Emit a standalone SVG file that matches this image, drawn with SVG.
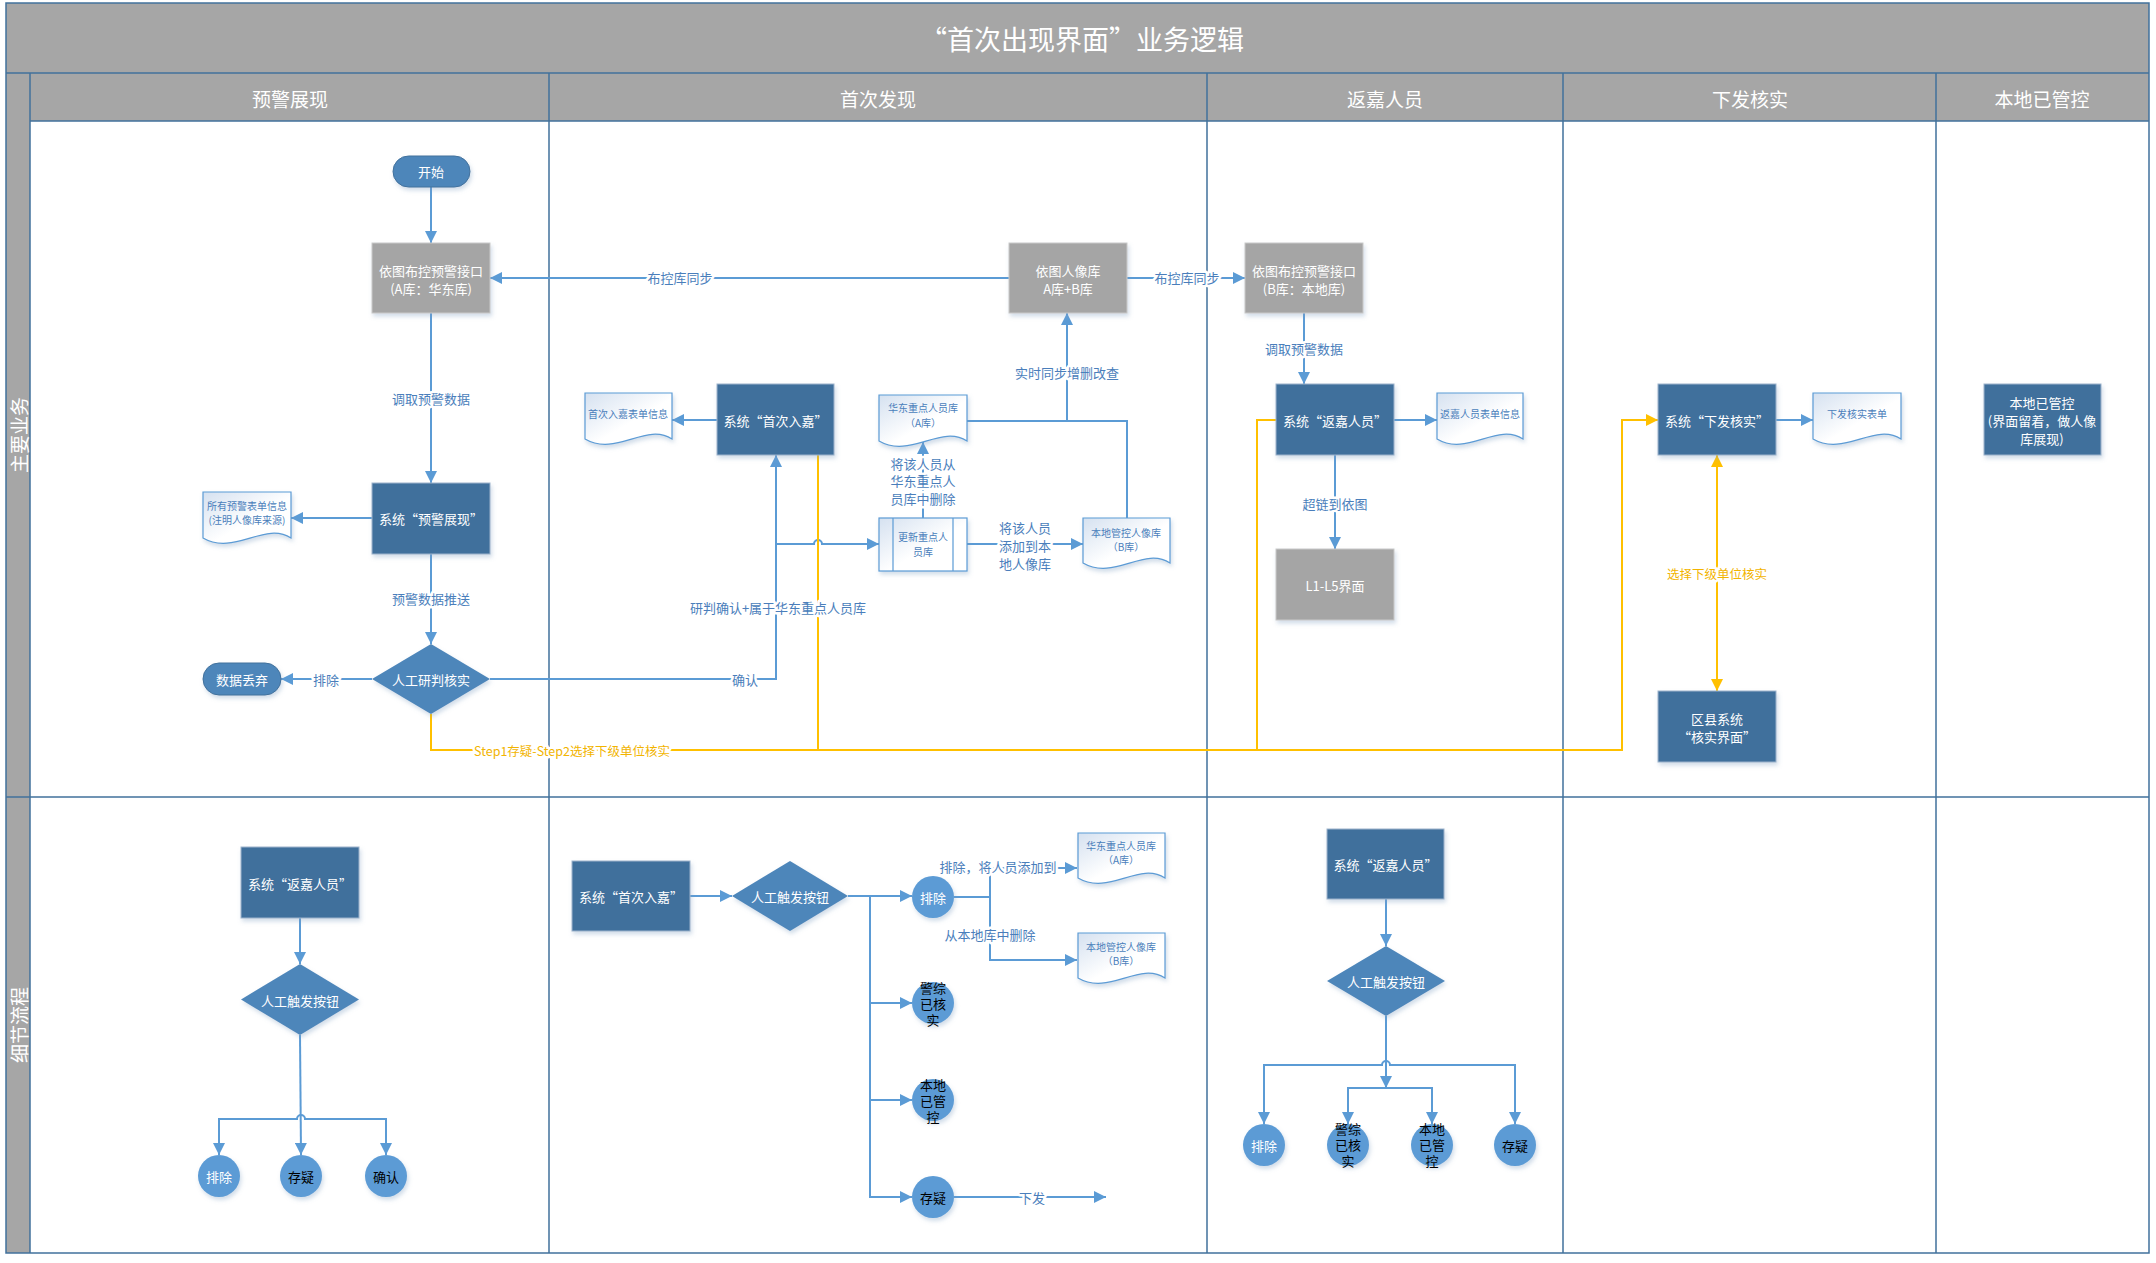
<svg xmlns="http://www.w3.org/2000/svg" width="2156" height="1263" viewBox="0 0 2156 1263">
<style>
text{font-family:"Noto Sans CJK SC","Liberation Sans",sans-serif;}
.hdr{fill:#A6A6A6;}
.lane{fill:none;stroke:#41719C;stroke-width:1.5;}
.ttl{fill:#fff;font-size:27px;text-anchor:middle;dominant-baseline:central;}
.lh{fill:#fff;font-size:19px;text-anchor:middle;dominant-baseline:central;}
.proc{fill:#41709C;stroke:#9DB3CC;stroke-width:1;}
.gray{fill:#A5A5A5;stroke:#C9C9C9;stroke-width:1;}
.dia{fill:#4E86BA;}
.pill{fill:#4E86BA;stroke:#41719C;stroke-width:1;}
.circ{fill:#5B9BD5;}
.doc{fill:url(#dg);stroke:#5B9BD5;stroke-width:1.2;}
.wt{fill:#fff;font-size:13px;text-anchor:middle;dominant-baseline:central;}
.bk{fill:#000;font-size:13px;text-anchor:middle;dominant-baseline:central;}
.dt{fill:#4A7EBB;font-size:10px;text-anchor:middle;dominant-baseline:central;}
.c{fill:none;stroke:#5B9BD5;stroke-width:2;}
.o{fill:none;stroke:#FFC000;stroke-width:2;}
.lbl{fill:#4A7EBB;font-size:13px;text-anchor:middle;dominant-baseline:central;stroke:#fff;stroke-width:5px;stroke-linejoin:round;paint-order:stroke;}
.olbl{fill:#F2B400;font-size:12.5px;text-anchor:middle;dominant-baseline:central;stroke:#fff;stroke-width:5px;stroke-linejoin:round;paint-order:stroke;}
</style>
<defs>
<marker id="ab" markerUnits="userSpaceOnUse" markerWidth="12" markerHeight="12" refX="12" refY="6" orient="auto-start-reverse"><path d="M0,0 L12,6 L0,12 Z" fill="#5B9BD5"/></marker>
<marker id="ao" markerUnits="userSpaceOnUse" markerWidth="12" markerHeight="12" refX="12" refY="6" orient="auto-start-reverse"><path d="M0,0 L12,6 L0,12 Z" fill="#FFC000"/></marker>
<linearGradient id="dg" x1="0" y1="0" x2="1" y2="1"><stop offset="0" stop-color="#D5E1F0"/><stop offset="0.55" stop-color="#FFFFFF"/></linearGradient>
<filter id="sh" x="-15%" y="-15%" width="140%" height="150%"><feDropShadow dx="1.5" dy="3" stdDeviation="2" flood-color="#7E9CC0" flood-opacity="0.35"/></filter>
</defs>

<g id="pool">
<rect x="0" y="0" width="2156" height="1263" fill="#fff"/>
<rect class="hdr" x="6" y="3" width="2143" height="70"/>
<rect class="hdr" x="30" y="73" width="2119" height="48"/>
<rect class="hdr" x="6" y="73" width="24" height="1180"/>
<rect class="lane" x="6" y="3" width="2143" height="1250"/>
<path class="lane" d="M6 73 H2149 M30 121 H2149 M6 797 H2149 M30 73 V1253 M549 73 V1253 M1207 73 V1253 M1563 73 V1253 M1936 73 V1253"/>
<text class="ttl" x="1082" y="38">“首次出现界面”业务逻辑</text>
<text class="lh" x="290" y="98">预警展现</text>
<text class="lh" x="878" y="98">首次发现</text>
<text class="lh" x="1385" y="98">返嘉人员</text>
<text class="lh" x="1750" y="98">下发核实</text>
<text class="lh" x="2042" y="98">本地已管控</text>
<text class="lh" transform="translate(18,435) rotate(-90)" x="0" y="0">主要业务</text>
<text class="lh" transform="translate(18,1025) rotate(-90)" x="0" y="0">细节流程</text>
</g>

<g id="connectors">
<path class="c" d="M431 187 V243" marker-end="url(#ab)"/>
<path class="c" d="M431 313 V483" marker-end="url(#ab)"/>
<path class="c" d="M372 518 H291" marker-end="url(#ab)"/>
<path class="c" d="M431 554 V644" marker-end="url(#ab)"/>
<path class="c" d="M372 679 H281" marker-end="url(#ab)"/>
<path class="c" d="M490 679 H776 V455" marker-end="url(#ab)"/>
<path class="c" d="M776 544 H814 A4 4 0 0 1 822 544 H879" marker-end="url(#ab)"/>
<path class="c" d="M717 420 H672" marker-end="url(#ab)"/>
<path class="c" d="M923 518 V442" marker-end="url(#ab)"/>
<path class="c" d="M967 544 H1083" marker-end="url(#ab)"/>
<path class="c" d="M967 421 H1127 V518"/>
<path class="c" d="M1067 421 V313" marker-end="url(#ab)"/>
<path class="c" d="M1009 278 H490" marker-end="url(#ab)"/>
<path class="c" d="M1127 278 H1245" marker-end="url(#ab)"/>
<path class="c" d="M1304 313 V384" marker-end="url(#ab)"/>
<path class="c" d="M1394 420 H1437" marker-end="url(#ab)"/>
<path class="c" d="M1335 455 V549" marker-end="url(#ab)"/>
<path class="c" d="M1776 420 H1813" marker-end="url(#ab)"/>

<path class="o" d="M818 455 V750"/>
<path class="o" d="M1276 420 H1257 V750"/>
<path class="o" d="M431 714 V750 H1622 V420 H1658" marker-end="url(#ao)"/>
<path class="o" d="M1717 455 V691" marker-start="url(#ao)" marker-end="url(#ao)"/>

<path class="c" d="M300 918 V964" marker-end="url(#ab)"/>
<path class="c" d="M300 1035 L301 1155" marker-end="url(#ab)"/>
<path class="c" d="M219 1155 V1119 H297 A4 4 0 0 1 305 1119 H386 V1155" marker-start="url(#ab)" marker-end="url(#ab)"/>

<path class="c" d="M690 896 H732" marker-end="url(#ab)"/>
<path class="c" d="M848 896 H912" marker-end="url(#ab)"/>
<path class="c" d="M870 896 V1197 H912" marker-end="url(#ab)"/>
<path class="c" d="M870 1003 H912" marker-end="url(#ab)"/>
<path class="c" d="M870 1100 H912" marker-end="url(#ab)"/>
<path class="c" d="M954 897 H990"/>
<path class="c" d="M990 897 V868 H1077" marker-end="url(#ab)"/>
<path class="c" d="M990 897 V960 H1077" marker-end="url(#ab)"/>
<path class="c" d="M954 1197 H1106" marker-end="url(#ab)"/>

<path class="c" d="M1386 899 V946" marker-end="url(#ab)"/>
<path class="c" d="M1386 1016 V1088" marker-end="url(#ab)"/>
<path class="c" d="M1264 1124 V1065 H1382 A4 4 0 0 1 1390 1065 H1515 V1124" marker-start="url(#ab)" marker-end="url(#ab)"/>
<path class="c" d="M1348 1124 V1088 H1432 V1124" marker-start="url(#ab)" marker-end="url(#ab)"/>

<text class="lbl" x="431" y="398">调取预警数据</text>
<text class="lbl" x="431" y="598">预警数据推送</text>
<text class="lbl" x="326" y="679">排除</text>
<text class="lbl" x="745" y="679">确认</text>
<text class="lbl" x="778" y="607">研判确认+属于华东重点人员库</text>
<text class="lbl" x="923" y="463">将该人员从</text>
<text class="lbl" x="923" y="480">华东重点人</text>
<text class="lbl" x="923" y="498">员库中删除</text>
<text class="lbl" x="1025" y="527">将该人员</text>
<text class="lbl" x="1025" y="545">添加到本</text>
<text class="lbl" x="1025" y="563">地人像库</text>
<text class="lbl" x="1067" y="372">实时同步增删改查</text>
<text class="lbl" x="680" y="277">布控库同步</text>
<text class="lbl" x="1187" y="277">布控库同步</text>
<text class="lbl" x="1304" y="348">调取预警数据</text>
<text class="lbl" x="1335" y="503">超链到依图</text>
<text class="olbl" x="572" y="750">Step1存疑-Step2选择下级单位核实</text>
<text class="olbl" x="1717" y="573">选择下级单位核实</text>
<text class="lbl" x="998" y="866">排除，将人员添加到</text>
<text class="lbl" x="990" y="934">从本地库中删除</text>
<text class="lbl" x="1032" y="1197">下发</text>
</g>

<g id="n_start"><rect class="pill" x="393" y="156" width="77" height="31" rx="15.5" filter="url(#sh)"/><text class="wt" x="431" y="171">开始</text></g>
<g id="n_ytA"><rect class="gray" x="372" y="243" width="118" height="70" filter="url(#sh)"/><text class="wt" x="431" y="270">依图布控预警接口</text><text class="wt" x="431" y="288">(A库：华东库)</text></g>
<g id="n_yjzx"><rect class="proc" x="372" y="483" width="118" height="71" filter="url(#sh)"/><text class="wt" x="431" y="518">系统“预警展现”</text></g>
<g id="n_doc_all"><path class="doc" d="M203 492 H291 V538 C265 521 234 556 203 538 Z" filter="url(#sh)"/><text class="dt" x="247" y="505">所有预警表单信息</text><text class="dt" x="247" y="519">(注明人像库来源)</text></g>
<g id="n_rgyp"><path class="dia" d="M431 644 L490 679 L431 714 L372 679 Z" filter="url(#sh)"/><text class="wt" x="431" y="679">人工研判核实</text></g>
<g id="n_discard"><rect class="pill" x="203" y="663" width="78" height="32" rx="16" filter="url(#sh)"/><text class="wt" x="242" y="679">数据丢弃</text></g>

<g id="n_scrj"><rect class="proc" x="717" y="384" width="117" height="71" filter="url(#sh)"/><text class="wt" x="775.5" y="420">系统“首次入嘉”</text></g>
<g id="n_doc_scrj"><path class="doc" d="M585 393 H672 V439 C646 422 616 457 585 439 Z" filter="url(#sh)"/><text class="dt" x="628" y="413">首次入嘉表单信息</text></g>
<g id="n_docA"><path class="doc" d="M879 395 H967 V441 C941 424 910 459 879 441 Z" filter="url(#sh)"/><text class="dt" x="923" y="407">华东重点人员库</text><text class="dt" x="923" y="422">（A库）</text></g>
<g id="n_update"><rect x="879" y="518" width="88" height="53" fill="url(#dg)" stroke="#5B9BD5" stroke-width="1.2" filter="url(#sh)"/><path d="M893 518 V571 M953 518 V571" stroke="#5B9BD5" stroke-width="1.2"/><text class="dt" x="923" y="536">更新重点人</text><text class="dt" x="923" y="551">员库</text></g>
<g id="n_docB"><path class="doc" d="M1083 518 H1170 V563 C1144 546 1114 581 1083 563 Z" filter="url(#sh)"/><text class="dt" x="1126" y="532">本地管控人像库</text><text class="dt" x="1126" y="546">（B库）</text></g>
<g id="n_ytlib"><rect class="gray" x="1009" y="243" width="118" height="70" filter="url(#sh)"/><text class="wt" x="1068" y="270">依图人像库</text><text class="wt" x="1068" y="288">A库+B库</text></g>

<g id="n_ytB"><rect class="gray" x="1245" y="243" width="118" height="70" filter="url(#sh)"/><text class="wt" x="1304" y="270">依图布控预警接口</text><text class="wt" x="1304" y="288">(B库：本地库)</text></g>
<g id="n_fjry"><rect class="proc" x="1276" y="384" width="118" height="71" filter="url(#sh)"/><text class="wt" x="1335" y="420">系统“返嘉人员”</text></g>
<g id="n_doc_fjry"><path class="doc" d="M1437 393 H1523 V439 C1497 422 1467 457 1437 439 Z" filter="url(#sh)"/><text class="dt" x="1480" y="413">返嘉人员表单信息</text></g>
<g id="n_l1l5"><rect class="gray" x="1276" y="549" width="118" height="71" filter="url(#sh)"/><text class="wt" x="1335" y="585">L1-L5界面</text></g>

<g id="n_xfhs"><rect class="proc" x="1658" y="384" width="118" height="71" filter="url(#sh)"/><text class="wt" x="1717" y="420">系统“下发核实”</text></g>
<g id="n_doc_xfhs"><path class="doc" d="M1813 393 H1901 V439 C1875 422 1844 457 1813 439 Z" filter="url(#sh)"/><text class="dt" x="1857" y="413">下发核实表单</text></g>
<g id="n_qx"><rect class="proc" x="1658" y="691" width="118" height="71" filter="url(#sh)"/><text class="wt" x="1717" y="718">区县系统</text><text class="wt" x="1717" y="736">“核实界面”</text></g>
<g id="n_bdygk"><rect class="proc" x="1984" y="384" width="117" height="71" filter="url(#sh)"/><text class="wt" x="2042" y="402">本地已管控</text><text class="wt" x="2042" y="420">(界面留着，做人像</text><text class="wt" x="2042" y="438">库展现)</text></g>

<g id="d1_fjry"><rect class="proc" x="241" y="847" width="118" height="71" filter="url(#sh)"/><text class="wt" x="300" y="883">系统“返嘉人员”</text></g>
<g id="d1_btn"><path class="dia" d="M300 964 L359 999.5 L300 1035 L241 999.5 Z" filter="url(#sh)"/><text class="wt" x="300" y="1000">人工触发按钮</text></g>
<g id="d1_pc"><circle class="circ" cx="219" cy="1176" r="21" filter="url(#sh)"/><text class="wt" x="219" y="1176">排除</text></g>
<g id="d1_cy"><circle class="circ" cx="301" cy="1176" r="21" filter="url(#sh)"/><text class="bk" x="301" y="1176">存疑</text></g>
<g id="d1_qr"><circle class="circ" cx="386" cy="1176" r="21" filter="url(#sh)"/><text class="bk" x="386" y="1176">确认</text></g>

<g id="d2_scrj"><rect class="proc" x="572" y="861" width="118" height="70" filter="url(#sh)"/><text class="wt" x="631" y="896">系统“首次入嘉”</text></g>
<g id="d2_btn"><path class="dia" d="M790 861 L848 896 L790 931 L732 896 Z" filter="url(#sh)"/><text class="wt" x="790" y="896">人工触发按钮</text></g>
<g id="d2_pc"><circle class="circ" cx="933" cy="897" r="21" filter="url(#sh)"/><text class="wt" x="933" y="897">排除</text></g>
<g id="d2_jz"><circle class="circ" cx="933" cy="1003" r="21" filter="url(#sh)"/><text class="bk" x="933" y="987">警综</text><text class="bk" x="933" y="1003">已核</text><text class="bk" x="933" y="1019">实</text></g>
<g id="d2_bd"><circle class="circ" cx="933" cy="1100" r="21" filter="url(#sh)"/><text class="bk" x="933" y="1084">本地</text><text class="bk" x="933" y="1100">已管</text><text class="bk" x="933" y="1116">控</text></g>
<g id="d2_cy"><circle class="circ" cx="933" cy="1197" r="21" filter="url(#sh)"/><text class="bk" x="933" y="1197">存疑</text></g>
<g id="d2_docA"><path class="doc" d="M1078 833 H1165 V878 C1139 861 1109 896 1078 878 Z" filter="url(#sh)"/><text class="dt" x="1121" y="845">华东重点人员库</text><text class="dt" x="1121" y="859">（A库）</text></g>
<g id="d2_docB"><path class="doc" d="M1078 933 H1165 V978 C1139 961 1109 996 1078 978 Z" filter="url(#sh)"/><text class="dt" x="1121" y="946">本地管控人像库</text><text class="dt" x="1121" y="960">（B库）</text></g>

<g id="d3_fjry"><rect class="proc" x="1327" y="829" width="117" height="70" filter="url(#sh)"/><text class="wt" x="1385.5" y="864">系统“返嘉人员”</text></g>
<g id="d3_btn"><path class="dia" d="M1386 946 L1445 981 L1386 1016 L1327 981 Z" filter="url(#sh)"/><text class="wt" x="1386" y="981">人工触发按钮</text></g>
<g id="d3_pc"><circle class="circ" cx="1264" cy="1145" r="21" filter="url(#sh)"/><text class="wt" x="1264" y="1145">排除</text></g>
<g id="d3_jz"><circle class="circ" cx="1348" cy="1145" r="21" filter="url(#sh)"/><text class="bk" x="1348" y="1128">警综</text><text class="bk" x="1348" y="1144">已核</text><text class="bk" x="1348" y="1160">实</text></g>
<g id="d3_bd"><circle class="circ" cx="1432" cy="1145" r="21" filter="url(#sh)"/><text class="bk" x="1432" y="1128">本地</text><text class="bk" x="1432" y="1144">已管</text><text class="bk" x="1432" y="1160">控</text></g>
<g id="d3_cy"><circle class="circ" cx="1515" cy="1145" r="21" filter="url(#sh)"/><text class="bk" x="1515" y="1145">存疑</text></g>
</svg>
